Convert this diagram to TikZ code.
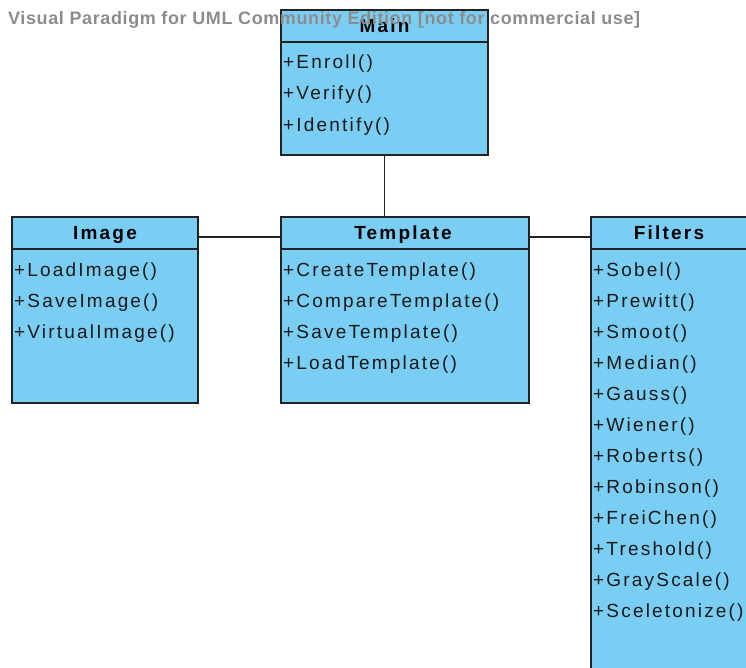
\documentclass[tikz,border=0pt]{standalone}
\usepackage{fontspec}
\setmainfont{Liberation Sans}
\newfontfamily\umlfont{Liberation Sans}[LetterSpace=11.5]
\newfontfamily\wmfont{Liberation Sans}[LetterSpace=3.4]
\definecolor{classfill}{RGB}{122,206,244}
\definecolor{classline}{RGB}{34,34,34}
\definecolor{wmgray}{RGB}{140,140,140}
\begin{document}
\begin{tikzpicture}[x=1pt,y=-1pt,
  classbox/.style={draw=classline,line width=1.4pt,fill=classfill,anchor=north west,inner sep=0pt,outer sep=0pt},
  divider/.style={draw=classline,line width=1.4pt},
  conn/.style={draw=classline,line width=1.5pt},
  title/.style={font=\umlfont\fontsize{19}{22}\selectfont\bfseries,inner sep=0pt,anchor=base},
  op/.style={font=\umlfont\fontsize{19}{22}\selectfont,inner sep=0pt,anchor=base west,text=black!90},
  wm/.style={font=\wmfont\fontsize{18}{20}\selectfont\bfseries,text=wmgray,inner sep=0pt,anchor=base west}]
\useasboundingbox (0,0) rectangle (746,668);
\begin{scope}
\clip (0,0) rectangle (746,668);
% Main
\node[classbox,minimum width=207pt,minimum height=145pt] (main) at (281,10) {};
\draw[divider] (281,42) -- (488,42);
\node[title] (mainT) at (384.5,33) {Main};
\node[op] (m1) at (283,69) {+Enroll()};
\node[op] (m2) at (283,100) {+Verify()};
\node[op] (m3) at (283,132) {+Identify()};
% Image
\node[classbox,minimum width=186pt,minimum height=186pt] (image) at (12,217) {};
\draw[divider] (12,249) -- (198,249);
\node[title] (imageT) at (105,240) {Image};
\node[op] (i1) at (14,276) {+LoadImage()};
\node[op] (i2) at (14,307) {+SaveImage()};
\node[op] (i3) at (14,338) {+VirtualImage()};
% Template
\node[classbox,minimum width=248pt,minimum height=186pt] (template) at (281,217) {};
\draw[divider] (281,249) -- (529,249);
\node[title] (templateT) at (403,240) {Template};
\node[op] (t1) at (283,276) {+CreateTemplate()};
\node[op] (t2) at (283,307) {+CompareTemplate()};
\node[op] (t3) at (283,338) {+SaveTemplate()};
\node[op] (t4) at (283,369) {+LoadTemplate()};
% Filters
\node[classbox,minimum width=170pt,minimum height=470pt] (filters) at (591,217) {};
\draw[divider] (591,249) -- (760,249);
\node[title] (filtersT) at (669,240) {Filters};
\foreach \t [count=\i from 0] in {Sobel,Prewitt,Smoot,Median,Gauss,Wiener,Roberts,Robinson,FreiChen,Treshold,GrayScale,Sceletonize}
  \node[op] (f\i) at (593,276+31*\i) {+\t()};
% connectors
\draw[conn] (main.south) -- (main.south |- template.north);
\draw[conn] ([yshift=-20pt]image.north east) -- ([yshift=-20pt]template.north west);
\draw[conn] ([yshift=-20pt]template.north east) -- ([yshift=-20pt]filters.north west);
% watermark
\node[wm] (wmark) at (8,25) {Visual Paradigm for UML Community Edition [not for commercial use]};
\end{scope}
\end{tikzpicture}
\end{document}
